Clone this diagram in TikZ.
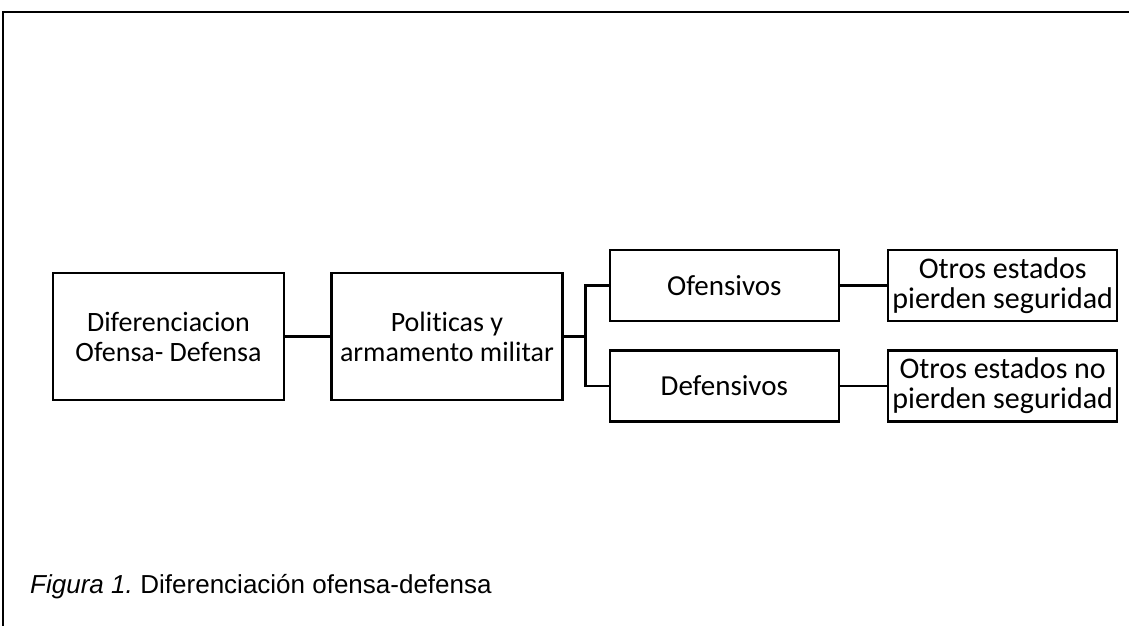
\documentclass[tikz,border=0pt]{standalone}
\usepackage{fontspec}
\setmainfont{Carlito}[Ligatures=NoCommon]
\newfontfamily\capfont{Liberation Sans}
\usetikzlibrary{positioning}

\begin{document}
\begin{tikzpicture}[x=1pt, y=-1pt, line width=2.4pt,
    bigbox/.style={rectangle, draw, minimum width=231pt, minimum height=127pt, align=center, font=\fontsize{28}{30}\selectfont},
    smallbox/.style={rectangle, draw, minimum width=229pt, minimum height=71pt, align=center, font=\fontsize{29}{30}\selectfont},
    link/.style={line width=2.4pt}]

    \useasboundingbox (0,0) rectangle (1129,626);
    % Frame
    \draw[line width=1.4pt] (3,626) -- (3,12) -- (1129,12);

    % Nodes
    \node[bigbox] (dif) at (168.5,336.5) {Diferenciacion\\Ofensa- Defensa};
    \node[bigbox, right=45pt of dif] (pol) {Politicas y\\armamento militar};
    \node[smallbox, right=45pt of pol, yshift=51pt] (ofe) {Ofensivos};
    \node[smallbox, below=27pt of ofe] (def) {Defensivos};
    \node[smallbox, inner xsep=1pt, font=\fontsize{30}{30}\selectfont, right=47pt of ofe] (otr1) {Otros estados\\pierden seguridad};
    \node[smallbox, inner xsep=1pt, font=\fontsize{30}{30}\selectfont, right=47pt of def] (otr2) {Otros estados no\\pierden seguridad};

    % Connectors
    \draw[link] (dif) -- (pol);
    \draw[link] (ofe.west) -- ++(-23,0) coordinate (fork) |- (def.west);
    \draw[link] (pol.east) -- (fork |- pol.east);
    \draw[link] (ofe) -- (otr1);
    \draw[link] (def) -- (otr2);

    % Caption
    \node[anchor=base west, inner sep=0pt, font=\capfont\fontsize{26}{30}\selectfont] (cap) at (29,593) {\textit{Figura 1.}\hspace{-2pt} Diferenciación ofensa-defensa};

\end{tikzpicture}
\end{document}
